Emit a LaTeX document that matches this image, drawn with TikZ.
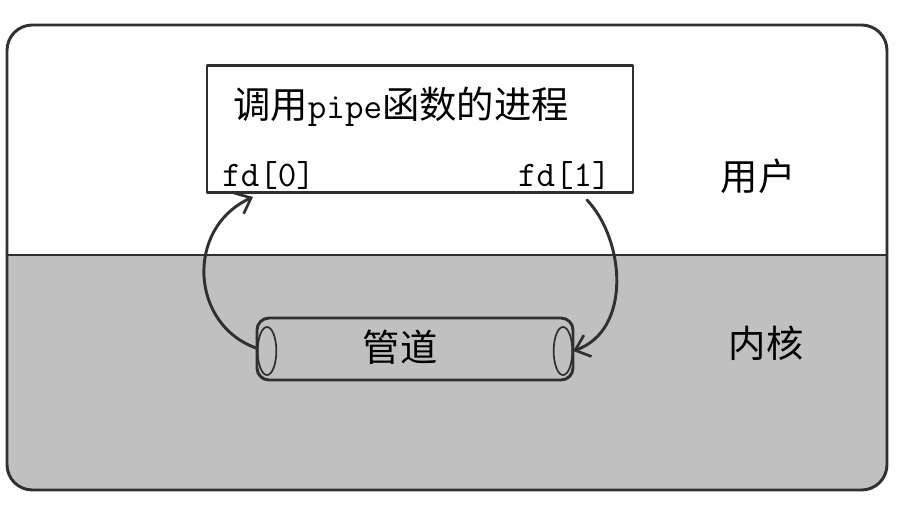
\documentclass[tikz,border=0pt]{standalone}
\usepackage{fontspec}
\newfontfamily\cjk{Noto Sans CJK SC}
\usetikzlibrary{arrows.meta,shapes.geometric}
\definecolor{kgray}{HTML}{C0C0C0}
\definecolor{ink}{HTML}{303030}
\tikzset{
  sketch/.style={draw=ink, line width=2.2pt, line cap=round, line join=round},
  thinsketch/.style={draw=ink, line width=1.3pt},
  cjktext/.style={font=\cjk\fontsize{28}{32}\selectfont, inner sep=0pt, text=black},
  monotext/.style={font=\ttfamily\fontsize{27}{30}\selectfont, inner sep=0pt, text=black},
  barb/.style={-{Straight Barb[length=10pt,width=17pt,line width=2pt]}}
}
\begin{document}
\begin{tikzpicture}[x=0.75pt,y=-0.75pt]
\useasboundingbox (0,0) rectangle (901,511);
% background halves
\begin{scope}
  \clip[rounded corners=19pt] (7,25) rectangle (887,490);
  \fill[white] (7,25) rectangle (887,255);
  \fill[kgray] (7,255) rectangle (887,490);
\end{scope}
\draw[sketch, rounded corners=19pt] (7,25) rectangle (887,490);
\draw[sketch] (7,255) -- (887,255);

% process box
\node (proc) [sketch, fill=white, minimum width=319.5pt, minimum height=95.25pt, inner sep=0pt] at (420,129) {};
\node (title) [cjktext, anchor=west] at (233,107) {调用{\ttfamily\fontsize{27}{30}\selectfont pipe}函数的进程};
\node (fd0) [monotext, anchor=west] at (222,175) {fd[0]};
\node (fd1) [monotext, anchor=east] at (611,175) {fd[1]};
\node (user) [cjktext] at (758,176) {用户};
\node (kernel) [cjktext] at (766,343) {内核};

% pipe
\node (pipe) [sketch, fill=kgray, rounded corners=9pt, minimum width=237pt, minimum height=46.5pt, inner sep=0pt] at (415,349) {};
\node (pl) [ellipse, thinsketch, minimum width=14pt, minimum height=36pt, inner sep=0pt] at (267,351) {};
\node (pr) [ellipse, thinsketch, minimum width=14pt, minimum height=36pt, inner sep=0pt] at (563,351) {};
\node (pipetext) [cjktext] at (400,347) {管道};

% arrows
\coordinate (tip0) at (253,197);
\coordinate (start1) at (587,200);
\draw[sketch, barb] (pl.165) .. controls (190,325) and (185,228) .. (tip0);
\draw[sketch, barb] (start1) .. controls (625,240) and (632,330) .. (pr.east);
\end{tikzpicture}
\end{document}
